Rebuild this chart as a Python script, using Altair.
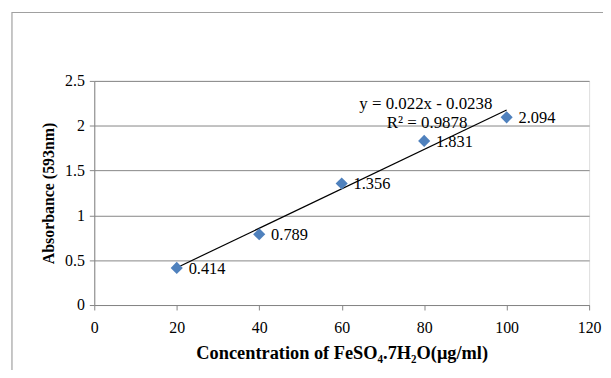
import altair as alt
import pandas as pd

conc = [20, 40, 60, 80, 100]
absorb = [0.414, 0.789, 1.356, 1.831, 2.094]
labels = ["0.414", "0.789", "1.356", "1.831", "2.094"]
slope = 0.022
intercept = -0.0238
eq_lines = ["y = 0.022x - 0.0238", "R² = 0.9878"]
eq_x = [80.4, 80.7]
eq_y = [2.245, 2.035]

df = pd.DataFrame({"x": conc, "y": absorb, "label": labels})
trend = pd.DataFrame({"x": [conc[0], conc[-1]],
                      "y": [slope * conc[0] + intercept, slope * conc[-1] + intercept]})
eq = pd.DataFrame({"x": eq_x, "y": eq_y, "t": eq_lines})

FONT = "Liberation Serif"
xs = alt.Scale(domain=[0, 120], nice=False)
ys = alt.Scale(domain=[0, 2.5], nice=False)

frame = alt.Chart(pd.DataFrame({"a": [0]})).mark_rect(
    fill=None, stroke="#a0a0a0", strokeWidth=1.2, clip=False
).encode(x=alt.value(-83), x2=alt.value(560), y=alt.value(-69), y2=alt.value(340))

base_x = alt.X("x:Q", scale=xs, axis=alt.Axis(
    values=[0, 20, 40, 60, 80, 100, 120], grid=False, labelFlush=False,
    title="Concentration of FeSO₄.7H₂O(μg/ml)", titleFont=FONT, titleFontSize=18.5,
    titleFontWeight="bold", titleColor="black", titlePadding=8,
    labelFont=FONT, labelFontSize=16, labelColor="black",
    domainColor="#868686", tickColor="#868686", tickSize=5, labelPadding=10))
base_y = alt.Y("y:Q", scale=ys, axis=alt.Axis(
    values=[0, 0.5, 1, 1.5, 2, 2.5], format="~g", grid=True, gridColor="#868686",
    labelFlush=False,
    title="Absorbance (593nm)", titleFont=FONT, titleFontSize=16,
    titleFontWeight="bold", titleColor="black", titlePadding=8,
    labelFont=FONT, labelFontSize=16, labelColor="black",
    domainColor="#868686", tickColor="#868686", tickSize=5, labelPadding=5))

points = alt.Chart(df).mark_point(shape="diamond", filled=True, color="#4F81BD",
                                  size=150, opacity=1).encode(x=base_x, y=base_y)
line = alt.Chart(trend).mark_line(color="black", strokeWidth=1.2).encode(x="x:Q", y="y:Q")
text = alt.Chart(df).mark_text(align="left", baseline="middle", dx=12, dy=1,
                               font=FONT, fontSize=16.5, color="black").encode(
    x="x:Q", y="y:Q", text="label:N")
eqt = alt.Chart(eq).mark_text(align="center", baseline="middle", font=FONT,
                              fontSize=17, color="black").encode(
    x="x:Q", y="y:Q", text="t:N")

chart = alt.layer(frame, line, points, text, eqt).properties(
    width=499, height=226,
    autosize=alt.AutoSizeParams(type="none"),
    padding={"left": 87, "top": 72, "right": 14, "bottom": 64},
).configure_view(stroke=None).configure(background="white")

chart.save("out.html", embed_options={"renderer": "svg", "actions": False})
